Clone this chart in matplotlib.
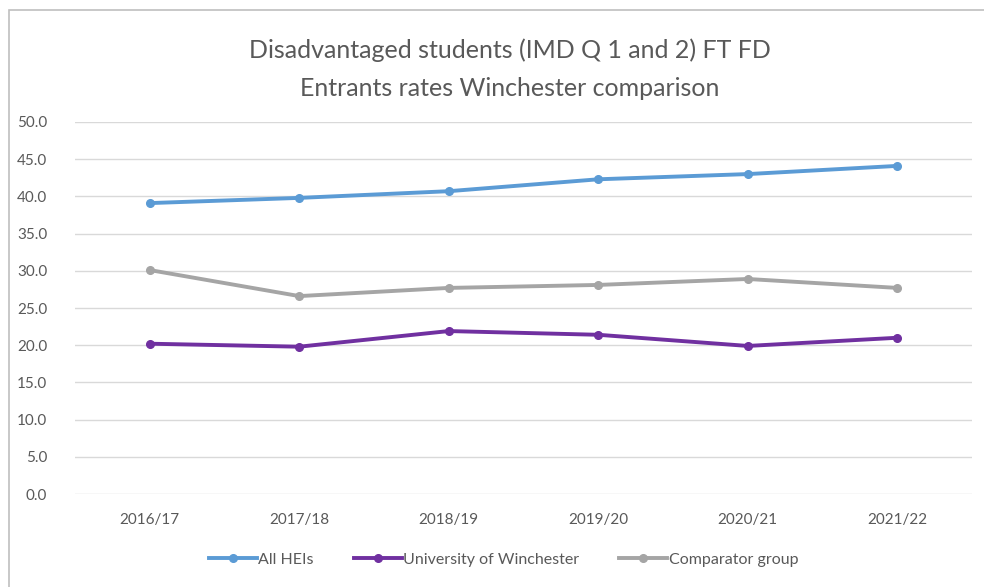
import matplotlib.pyplot as plt
from matplotlib.patches import Rectangle

# data
years = ["2016/17", "2017/18", "2018/19", "2019/20", "2020/21", "2021/22"]
all_heis = [39.1, 39.8, 40.7, 42.3, 43.0, 44.1]
winchester = [20.2, 19.8, 21.9, 21.4, 19.9, 21.0]
comparator = [30.1, 26.6, 27.7, 28.1, 28.9, 27.7]
y_ticks = [0, 5, 10, 15, 20, 25, 30, 35, 40, 45, 50]

plt.rcParams['font.family'] = ['Lato', 'DejaVu Sans']

fig = plt.figure(figsize=(9.84, 5.87), dpi=100)
ax = fig.add_axes([75/984, 1 - 494/587, 897/984, 372/587])

x = list(range(len(years)))
ax.plot(x, all_heis, color="#5B9BD5", lw=2.8, marker="o", ms=5.5, label="All HEIs")
ax.plot(x, winchester, color="#7030A0", lw=2.8, marker="o", ms=5.5, label="University of Winchester")
ax.plot(x, comparator, color="#A5A5A5", lw=2.8, marker="o", ms=5.5, label="Comparator group")

ax.set_xlim(-0.5, len(years) - 0.5)
ax.set_ylim(0, 50)
ax.set_yticks(y_ticks)
ax.set_yticklabels(["{:.1f}".format(v) for v in y_ticks])
ax.set_xticks(x)
ax.set_xticklabels(years)
ax.tick_params(length=0, colors="#595959", labelsize=11)
ax.tick_params(axis="y", pad=20)
ax.tick_params(axis="x", pad=14)
ax.grid(axis="y", color="#D9D9D9", lw=1)
ax.set_axisbelow(True)
for s in ax.spines.values():
    s.set_visible(False)

fig.text(0.518, 1 - 50/587, "Disadvantaged students (IMD Q 1 and 2) FT FD",
         ha="center", va="center", fontsize=18, color="#595959")
fig.text(0.518, 1 - 88/587, "Entrants rates Winchester comparison",
         ha="center", va="center", fontsize=18, color="#595959")

ax.legend(loc="center", bbox_to_anchor=(0.512, 1 - 560/587), bbox_transform=fig.transFigure,
          ncol=3, frameon=False, fontsize=11.5, labelcolor="#595959",
          handlelength=3, handletextpad=0.1, columnspacing=2.5)

# chart border (only top/left visible in the reference)
fig.patches.append(Rectangle((9/984, -0.1), 1.2, 1.1 - 10/587, transform=fig.transFigure,
                             fill=False, edgecolor="#BFBFBF", lw=1.2))

fig.savefig("out.png", dpi=100)
